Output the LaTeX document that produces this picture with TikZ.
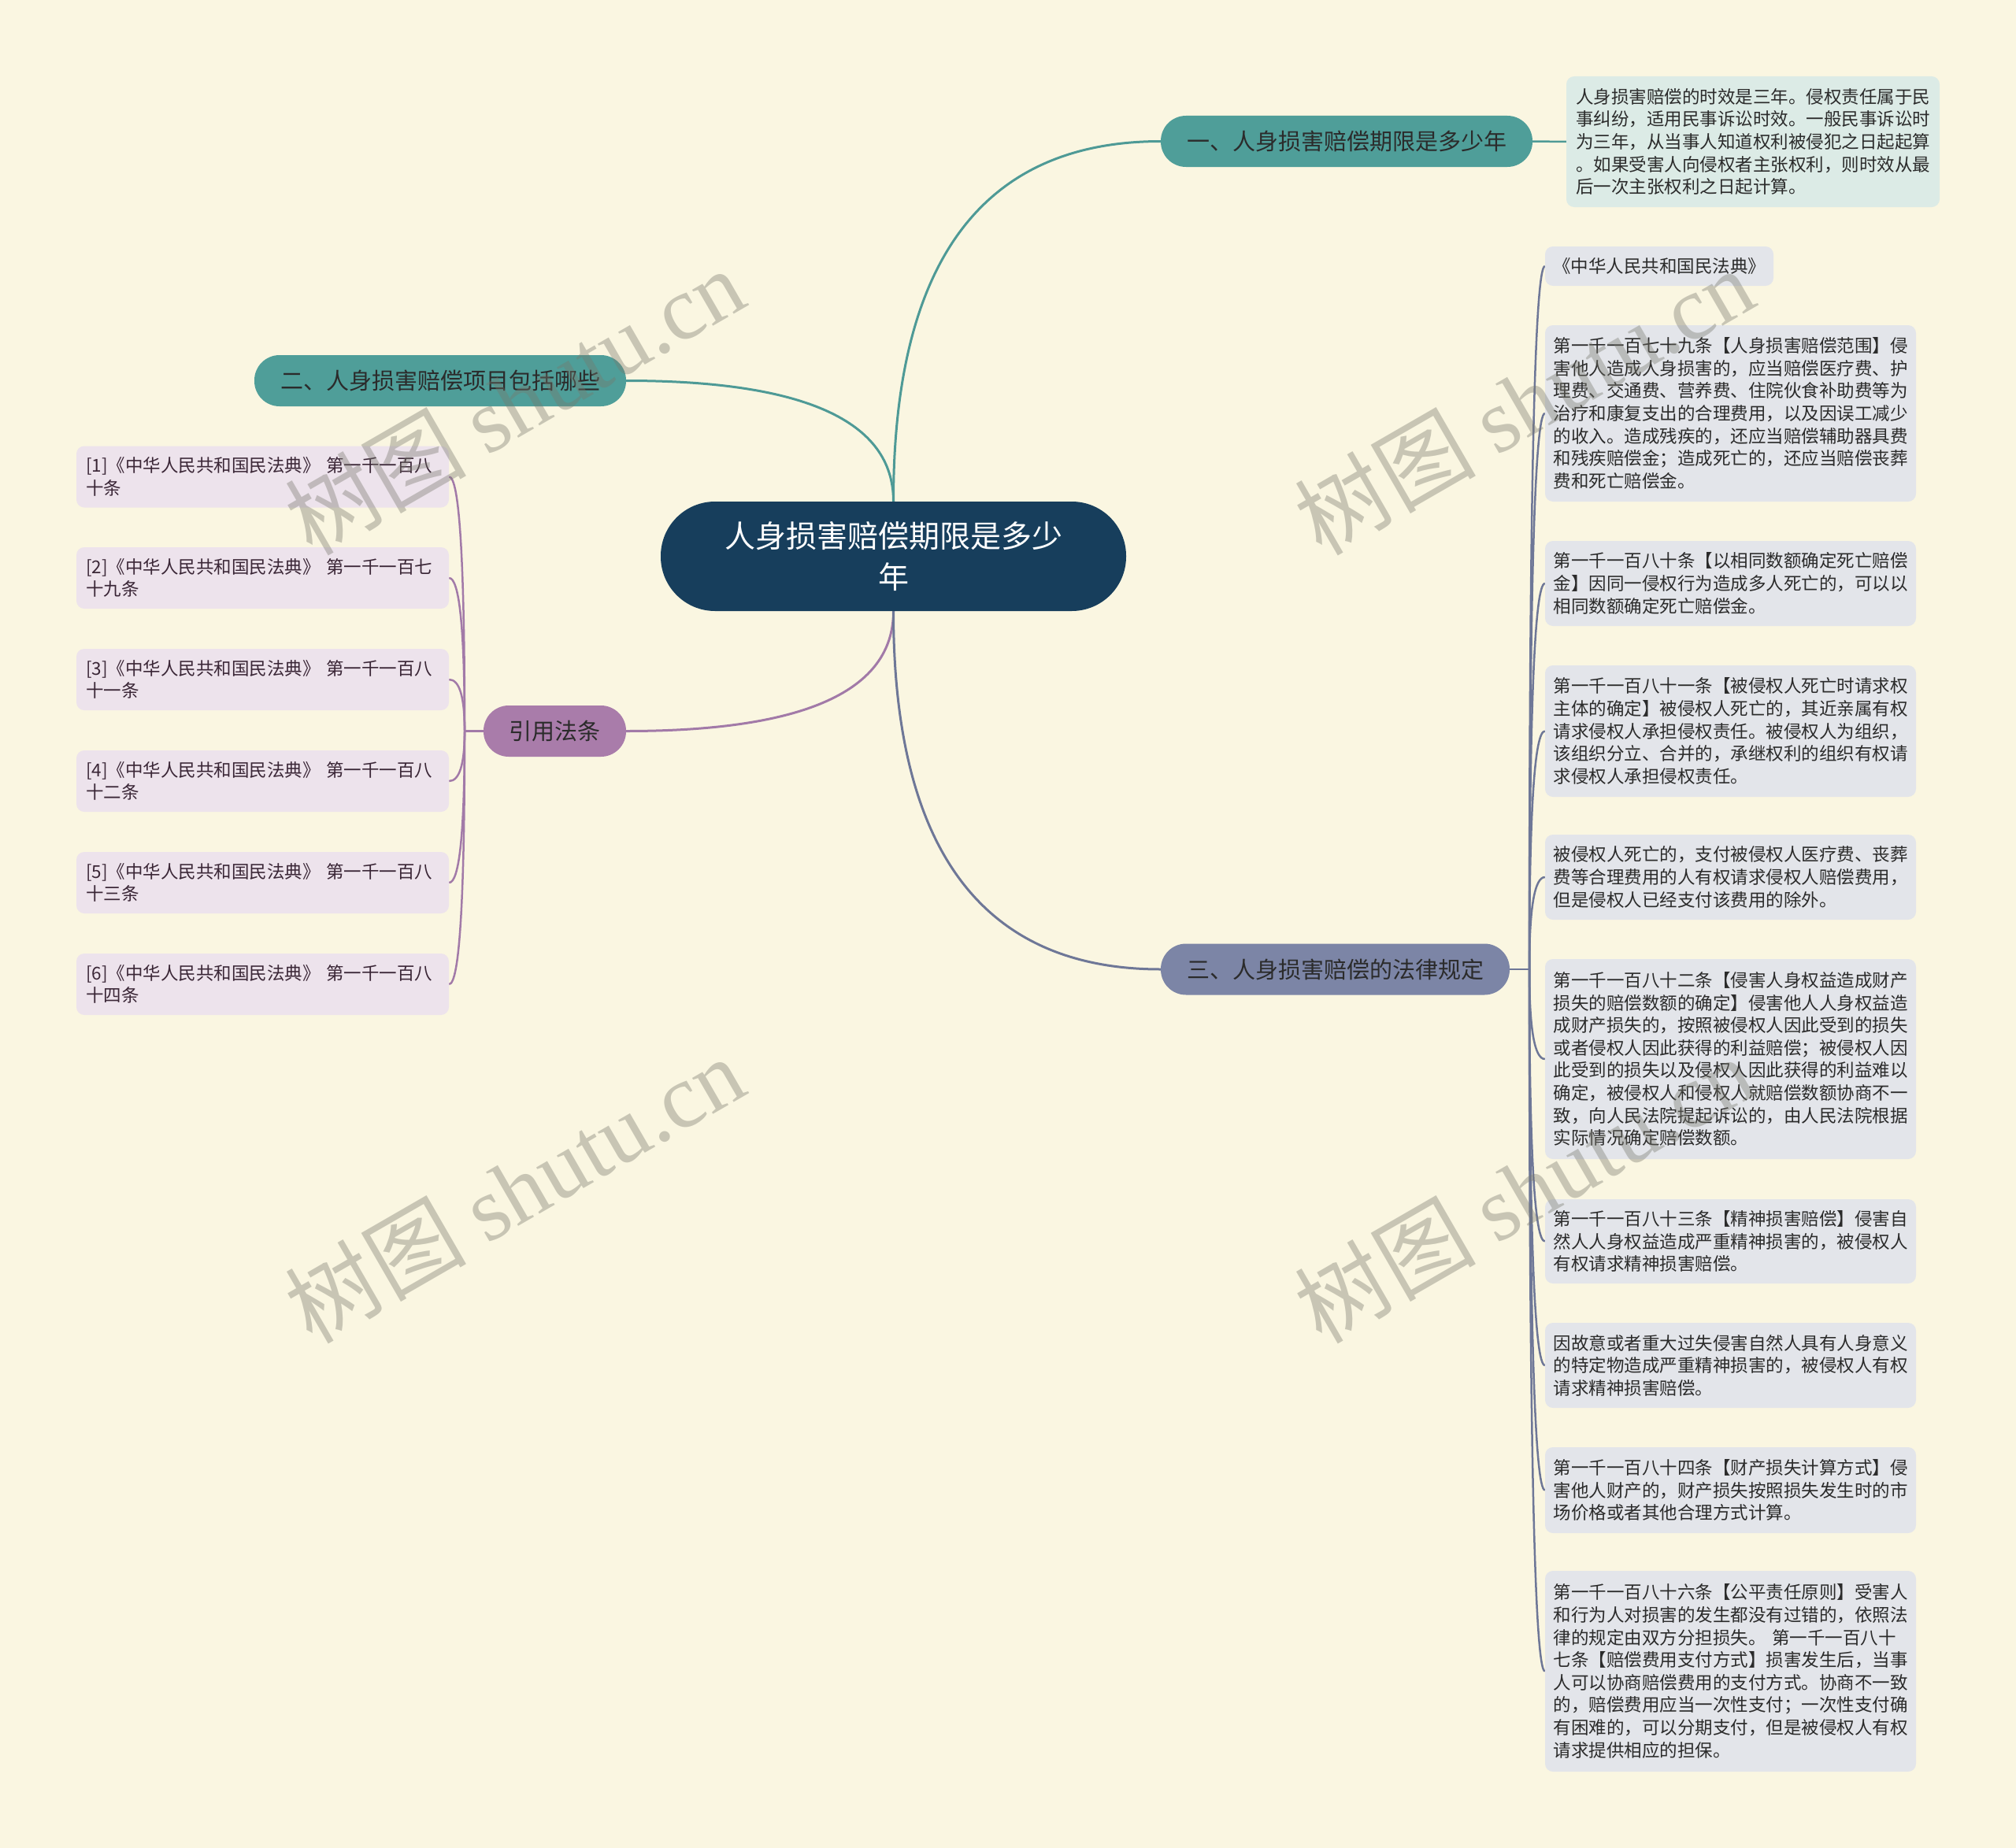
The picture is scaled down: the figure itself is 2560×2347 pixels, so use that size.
\documentclass[tikz,border=0pt]{standalone}
\usepackage{fontspec}
\setmainfont{Noto Sans CJK SC}
\newfontfamily\wmlatin{Liberation Serif}
\usetikzlibrary{calc}
\definecolor{pagebg}{HTML}{FAF6E1}
\definecolor{rootfill}{HTML}{173E5C}
\definecolor{tealfill}{HTML}{4F9E99}
\definecolor{purpfill}{HTML}{A97CAA}
\definecolor{slatefill}{HTML}{7C85A6}
\definecolor{tealline}{HTML}{4E9A96}
\definecolor{purpline}{HTML}{A27AA8}
\definecolor{slateline}{HTML}{6E7797}
\definecolor{tealleaf}{HTML}{DCEBE6}
\definecolor{slateleaf}{HTML}{E3E5EA}
\definecolor{purpleaf}{HTML}{EDE3EC}
\definecolor{darktext}{HTML}{2B2B2B}
\definecolor{purptext}{HTML}{3A2636}
\definecolor{wmgray}{HTML}{77776C}
\pgfdeclarelayer{bglayer}
\pgfdeclarelayer{linklayer}
\pgfdeclarelayer{wmlayer}
\pgfsetlayers{bglayer,linklayer,main,wmlayer}
\newcommand\qlink[3]{%
  \coordinate (qctl) at (#2 |- #3);
  \draw[#1] (#2) .. controls ($(#2)!0.6667!(qctl)$) and ($(#3)!0.6667!(qctl)$) .. (#3);}
\begin{document}
\begin{tikzpicture}[x=1pt,y=-1pt,
  root/.style={fill=rootfill, text=white, rounded corners=69pt, minimum width=591pt, minimum height=139pt, align=center, font=\fontsize{39}{52}\selectfont, inner sep=0pt},
  branch/.style={rounded corners=32pt, minimum height=65pt, inner sep=0pt, text=darktext, font=\fontsize{29}{34}\selectfont},
  leafbox/.style={rounded corners=10pt, inner xsep=10.5pt, inner ysep=0pt, align=left, text width=450pt, font=\fontsize{22.5}{28.6}\selectfont, text=darktext},
  rleaf/.style={leafbox, fill=slateleaf},
  lleaf/.style={leafbox, fill=purpleaf, text=purptext, inner xsep=12pt, text width=449pt, minimum height=78pt},
  link/.style={line width=3pt},
  sublink/.style={line width=2.5pt},
  wm/.style={text=wmgray, text opacity=0.38, font=\fontsize{115}{115}\selectfont, rotate=30, inner sep=0pt}
]
\useasboundingbox (0,0) rectangle (2560,2347);
\begin{pgfonlayer}{bglayer}
  \fill[pagebg] (0,0) rectangle (2560,2347);
\end{pgfonlayer}

% root and branches
\node[root] (ctr) at (1134.5,706.5) {人身损害赔偿期限是多少\\年};
\node[branch, fill=tealfill, minimum width=472pt] (b1) at (1710,179.5) {一、人身损害赔偿期限是多少年};
\node[branch, fill=tealfill, minimum width=472pt] (b2) at (559,483.5) {二、人身损害赔偿项目包括哪些};
\node[branch, fill=purpfill, minimum width=181pt] (b4) at (704.5,928.5) {引用法条};
\node[branch, fill=slatefill, minimum width=443pt] (b3) at (1695.5,1231) {三、人身损害赔偿的法律规定};

% branch 1 leaf
\node[leafbox, fill=tealleaf, inner xsep=12pt, minimum height=166pt] (t1) at (2226,180) {人身损害赔偿的时效是三年。侵权责任属于民\\事纠纷，适用民事诉讼时效。一般民事诉讼时\\为三年，从当事人知道权利被侵犯之日起起算\\。如果受害人向侵权者主张权利，则时效从最\\后一次主张权利之日起计算。};

% branch 3 leaves
\node[fill=slateleaf, rounded corners=10pt, minimum width=290pt, minimum height=50pt, inner sep=0pt, font=\fontsize{22.5}{28.6}\selectfont, text=darktext] (r0) at (2107,338) {《中华人民共和国民法典》};
\node[rleaf, minimum height=224pt] (r1) at (2197.5,525) {第一千一百七十九条【人身损害赔偿范围】侵\\害他人造成人身损害的，应当赔偿医疗费、护\\理费、交通费、营养费、住院伙食补助费等为\\治疗和康复支出的合理费用，以及因误工减少\\的收入。造成残疾的，还应当赔偿辅助器具费\\和残疾赔偿金；造成死亡的，还应当赔偿丧葬\\费和死亡赔偿金。};
\node[rleaf, minimum height=108pt] (r2) at (2197.5,741) {第一千一百八十条【以相同数额确定死亡赔偿\\金】因同一侵权行为造成多人死亡的，可以以\\相同数额确定死亡赔偿金。};
\node[rleaf, minimum height=167pt] (r3) at (2197.5,928.5) {第一千一百八十一条【被侵权人死亡时请求权\\主体的确定】被侵权人死亡的，其近亲属有权\\请求侵权人承担侵权责任。被侵权人为组织，\\该组织分立、合并的，承继权利的组织有权请\\求侵权人承担侵权责任。};
\node[rleaf, minimum height=108pt] (r4) at (2197.5,1114) {被侵权人死亡的，支付被侵权人医疗费、丧葬\\费等合理费用的人有权请求侵权人赔偿费用，\\但是侵权人已经支付该费用的除外。};
\node[rleaf, minimum height=254pt] (r5) at (2197.5,1345) {第一千一百八十二条【侵害人身权益造成财产\\损失的赔偿数额的确定】侵害他人人身权益造\\成财产损失的，按照被侵权人因此受到的损失\\或者侵权人因此获得的利益赔偿；被侵权人因\\此受到的损失以及侵权人因此获得的利益难以\\确定，被侵权人和侵权人就赔偿数额协商不一\\致，向人民法院提起诉讼的，由人民法院根据\\实际情况确定赔偿数额。};
\node[rleaf, minimum height=107pt] (r6) at (2197.5,1576.5) {第一千一百八十三条【精神损害赔偿】侵害自\\然人人身权益造成严重精神损害的，被侵权人\\有权请求精神损害赔偿。};
\node[rleaf, minimum height=108pt] (r7) at (2197.5,1734) {因故意或者重大过失侵害自然人具有人身意义\\的特定物造成严重精神损害的，被侵权人有权\\请求精神损害赔偿。};
\node[rleaf, minimum height=109pt] (r8) at (2197.5,1892.5) {第一千一百八十四条【财产损失计算方式】侵\\害他人财产的，财产损失按照损失发生时的市\\场价格或者其他合理方式计算。};
\node[rleaf, minimum height=255pt] (r9) at (2197.5,2122.5) {第一千一百八十六条【公平责任原则】受害人\\和行为人对损害的发生都没有过错的，依照法\\律的规定由双方分担损失。~第一千一百八十\\七条【赔偿费用支付方式】损害发生后，当事\\人可以协商赔偿费用的支付方式。协商不一致\\的，赔偿费用应当一次性支付；一次性支付确\\有困难的，可以分期支付，但是被侵权人有权\\请求提供相应的担保。};

% cited articles
\node[lleaf] (l1) at (333.5,605.5) {[1]《中华人民共和国民法典》~第一千一百八\\十条};
\node[lleaf] (l2) at (333.5,734) {[2]《中华人民共和国民法典》~第一千一百七\\十九条};
\node[lleaf] (l3) at (333.5,863) {[3]《中华人民共和国民法典》~第一千一百八\\十一条};
\node[lleaf] (l4) at (333.5,992) {[4]《中华人民共和国民法典》~第一千一百八\\十二条};
\node[lleaf] (l5) at (333.5,1121) {[5]《中华人民共和国民法典》~第一千一百八\\十三条};
\node[lleaf] (l6) at (333.5,1250) {[6]《中华人民共和国民法典》~第一千一百八\\十四条};

% connectors
\begin{pgfonlayer}{linklayer}
  \qlink{link, tealline}{ctr.north}{b1.west}
  \qlink{link, tealline}{ctr.north}{b2.east}
  \qlink{link, purpline}{ctr.south}{b4.east}
  \qlink{link, slateline}{ctr.south}{b3.west}
  \draw[sublink, tealline] (b1.east) -- (t1.west);
  \coordinate (TR) at (1942,1231);
  \draw[sublink, slateline] (b3.east) -- (TR);
  \foreach \i in {0,...,9} {\qlink{sublink, slateline}{TR}{r\i.west}}
  \coordinate (TL) at (590,928.5);
  \draw[sublink, purpline] (b4.west) -- (TL);
  \foreach \i in {1,...,6} {\qlink{sublink, purpline}{TL}{l\i.east}}
\end{pgfonlayer}

% watermarks
\begin{pgfonlayer}{wmlayer}
  \begin{scope}
    \clip (0,0) rectangle (2560,2347);
    \node[wm] (wm1) at (653,509) {树图 {\wmlatin shutu.cn}};
    \node[wm] (wm2) at (1935,509) {树图 {\wmlatin shutu.cn}};
    \node[wm] (wm3) at (653,1510) {树图 {\wmlatin shutu.cn}};
    \node[wm] (wm4) at (1935,1510) {树图 {\wmlatin shutu.cn}};
    \node[wm] (wm5) at (653,2511) {树图 {\wmlatin shutu.cn}};
    \node[wm] (wm6) at (1935,2511) {树图 {\wmlatin shutu.cn}};
  \end{scope}
\end{pgfonlayer}
\end{tikzpicture}
\end{document}
